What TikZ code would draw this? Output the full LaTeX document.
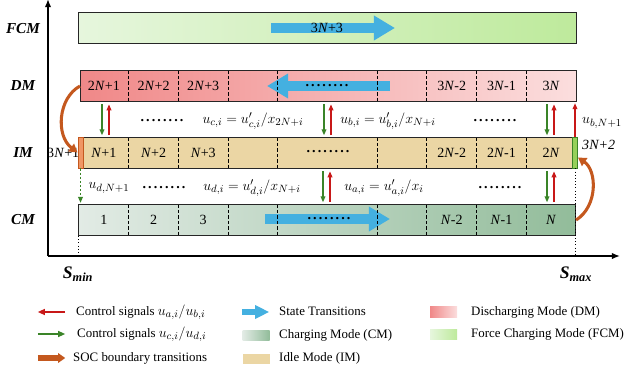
\documentclass[tikz,border=0pt]{standalone}
\usepackage{fontspec}
\setmainfont{Liberation Serif}
\usetikzlibrary{arrows.meta}
\usetikzlibrary{positioning}

\definecolor{dmL}{RGB}{240,136,136}
\definecolor{dmR}{RGB}{251,222,222}
\definecolor{fcmL}{RGB}{230,246,221}
\definecolor{fcmR}{RGB}{190,234,156}
\definecolor{cmL}{RGB}{226,235,229}
\definecolor{cmR}{RGB}{146,188,154}
\definecolor{imfill}{RGB}{235,214,164}
\definecolor{statblue}{RGB}{68,176,224}
\definecolor{socorange}{RGB}{196,88,30}
\definecolor{sigred}{RGB}{200,24,24}
\definecolor{siggreen}{RGB}{58,132,40}
\definecolor{endorange}{RGB}{240,150,100}
\definecolor{endgreen}{RGB}{150,208,90}

\tikzset{
  modebar/.style={draw=black!85, line width=0.9pt, inner sep=0pt, minimum height=0.93cm, anchor=north west},
  cellsep/.style={black, line width=0.75pt, dash pattern=on 3pt off 1.6pt, shorten <=0.5pt, shorten >=0.5pt},
  redsig/.style={sigred, line width=1pt, -{Triangle[length=5pt,width=4pt]}},
  greensig/.style={siggreen, line width=1pt, -{Triangle[length=5pt,width=4pt]}},
  socarrow/.style={socorange, line width=2.6pt, -{Triangle[length=7pt,width=8pt]}},
  statearrow/.style={statblue, line width=8.5pt, -{Triangle[length=18pt,width=20pt]}},
  modename/.style={font=\fontsize{13}{15}\selectfont\bfseries\itshape},
  cell/.style={font=\fontsize{12}{14}\selectfont, inner sep=0pt},
  eqn/.style={font=\fontsize{13}{15}\selectfont, inner sep=0pt},
  legtext/.style={font=\fontsize{11}{13}\selectfont, anchor=west, inner sep=0pt, text height=8pt, text depth=2.5pt},
  legkey/.style={inner sep=0pt, minimum width=0.81cm, minimum height=0.3cm},
}
\newcommand{\rowdots}{\textbf{.\kern1.8pt.\kern1.8pt.\kern1.8pt.\kern1.8pt.\kern1.8pt.\kern1.8pt.\kern1.8pt.}}
\newcommand{\legmath}[1]{{\fontsize{12.5}{13}\selectfont$#1$}}

\begin{document}
\begin{tikzpicture}[x=0.03cm, y=-0.03cm]
\useasboundingbox (0,0) rectangle (628,372);

% axes
\coordinate (O) at (48,256);
\coordinate (xtip) at (620,256);
\coordinate (ytip) at (48,-1);
\draw[line width=1.2pt, -{Latex[length=7pt,width=5.5pt]}] (O) -- (xtip);
\draw[line width=1.2pt, -{Latex[length=7pt,width=5.5pt]}] (O) -- (ytip);

% the four modes
\node[modebar, minimum width=14.94cm, left color=fcmL, right color=fcmR] (FCM) at (78,12) {};
\node[modebar, minimum width=14.88cm, left color=dmL, right color=dmR] (DM) at (80,70) {};
\node[modebar, minimum width=14.88cm, fill=imfill] (IM) at (80,137) {};
\node[modebar, minimum width=14.91cm, left color=cmL, right color=cmR] (CM) at (78,204) {};

\node[modename] (nFCM) at (23,29) {FCM};
\node[modename] (nDM) at (23,86) {DM};
\node[modename] (nIM) at (23,153) {IM};
\node[modename] (nCM) at (23,220) {CM};

% state transitions
\draw[statearrow] (271,28) -- (395,28);
\draw[statearrow] (390,86) -- (267,86);
\draw[statearrow] (265,219) -- (390,219);
\node[cell] (fcmlbl) at (327,28) {3\textit{N}+3};

% cells
\foreach \b in {DM,IM,CM}
  \foreach \k in {1,2,3,4,6,7,8,9} {
    \coordinate (s) at ({79+49.7*\k},0);
    \draw[cellsep] (s |- \b.north) -- (s |- \b.south);
  }
\foreach \k/\lbl in {1/2\textit{N}+1,2/2\textit{N}+2,3/2\textit{N}+3,8/3\textit{N}-2,9/3\textit{N}-1,10/3\textit{N}}
  \node[cell] (dm\k) at ({79+49.7*(\k-0.5)},86) {\lbl};
\foreach \k/\lbl in {1/\textit{N}+1,2/\textit{N}+2,3/\textit{N}+3,8/2\textit{N}-2,9/2\textit{N}-1,10/2\textit{N}}
  \node[cell] (im\k) at ({79+49.7*(\k-0.5)},152.5) {\lbl};
\foreach \k/\lbl in {1/1,2/2,3/3,8/\textit{N}-2,9/\textit{N}-1,10/\textit{N}}
  \node[cell] (cm\k) at ({79+49.7*(\k-0.5)},219.5) {\lbl};
\node[cell] (dmdots) at (327,86) {\rowdots};
\node[cell] (imdots) at (328,152) {\rowdots};
\node[cell] (cmdots) at (329,219) {\rowdots};

% boundary cells of IM
\node[cell] (lb) at (47,153) [anchor=west] {3\textit{N}+1};
\node[draw=socorange, fill=endorange, line width=0.8pt, minimum width=0.15cm, minimum height=0.93cm, inner sep=0pt] (IMl) at (80.5,152.5) {};
\node[draw=siggreen, fill=endgreen, line width=0.8pt, minimum width=0.15cm, minimum height=0.93cm, inner sep=0pt] (IMr) at (575,152.5) {};
\node[cell, anchor=west] (rb) at (582,145) {\textit{3N+2}};

% control signals
\foreach \g in {102,324,547} {
  \coordinate (gx) at (\g,0);
  \coordinate (rx) at ({\g+7},0);
  \draw[greensig, shorten <=2pt, shorten >=1.5pt] (DM.south -| gx) -- (IM.north -| gx);
  \draw[redsig, shorten <=1.5pt, shorten >=2pt] (IM.north -| rx) -- (DM.south -| rx);
}
\foreach \g in {323,547} {
  \coordinate (gx) at (\g,0);
  \coordinate (rx) at ({\g+7},0);
  \draw[greensig, shorten <=2pt, shorten >=1.5pt] (IM.south -| gx) -- (CM.north -| gx);
  \draw[redsig, shorten <=1.5pt, shorten >=2pt] (CM.north -| rx) -- (IM.south -| rx);
}
\draw[redsig, shorten >=1pt] (IMr.north) -- (IMr.north |- DM.south);
\draw[greensig, dash pattern=on 2pt off 1.5pt, shorten >=1pt] (IMl.south) -- (IMl.south |- CM.north);

\node[cell] (dA1) at (162,121) {\rowdots};
\node[eqn] (uc) at (253,121) {$u_{c,i}=u'_{c,i}/x_{2N+i}$};
\node[eqn] (ub) at (388,121) {$u_{b,i}=u'_{b,i}/x_{N+i}$};
\node[cell] (dA2) at (495,121) {\rowdots};
\node[eqn, anchor=west] (ubN) at (582,123) {$u_{b,N+1}$};
\node[eqn] (udN) at (109,188) {$u_{d,N+1}$};
\node[cell] (dB1) at (164,188) {\rowdots};
\node[eqn] (ud) at (252,188) {$u_{d,i}=u'_{d,i}/x_{N+i}$};
\node[eqn] (ua) at (384,188) {$u_{a,i}=u'_{a,i}/x_i$};
\node[cell] (dB2) at (500,188) {\rowdots};

% SOC limits
\draw[dotted, line width=0.7pt] (CM.south west) -- (CM.south west |- O);
\draw[dotted, line width=0.7pt] (IMr.south) -- (IMr.south |- O);
\draw[socarrow] (DM.west) .. controls +(-22,12) and +(-22,-17) .. (IMl.west);
\draw[socarrow] (CM.east) .. controls +(22,-14) and +(19,13) .. ([yshift=-0.15cm]IMr.east);
\node[font=\fontsize{15}{17}\selectfont\bfseries\itshape] (smin) at (78,274) {S\textsubscript{min}};
\node[font=\fontsize{15}{17}\selectfont\bfseries\itshape] (smax) at (576,274) {S\textsubscript{max}};

% legend
\node[legkey] (k1) at (51.5,312) {};
\node[legkey] (k2) at (51.5,334) {};
\node[legkey] (k3) at (51.5,358) {};
\node[legkey] (k4) at (255.5,312) {};
\node[legkey, minimum height=0.3cm, left color=cmL, right color=cmR] (k5) at (256,335) {};
\node[legkey, minimum height=0.3cm, fill=imfill] (k6) at (256,359) {};
\node[legkey, minimum height=0.33cm, left color=dmL, right color=dmR] (k7) at (443.5,311.5) {};
\node[legkey, minimum height=0.3cm, left color=fcmL, right color=fcmR] (k8) at (443.5,334.5) {};
\draw[sigred, line width=1.3pt, -{Triangle[length=6pt,width=5pt]}] (k1.east) -- (k1.west);
\draw[siggreen, line width=1.3pt, -{Triangle[length=6pt,width=5pt]}] (k2.west) -- (k2.east);
\draw[socorange, line width=4.5pt, -{Triangle[length=6pt,width=8pt]}] (k3.west) -- (k3.east);
\draw[statblue, line width=5pt, -{Triangle[length=12pt,width=11pt]}] (k4.west) -- (k4.east);
\node[legtext] (t1) at (76,312) {Control signals \legmath{u_{a,i}/u_{b,i}}};
\node[legtext] (t2) at (77,334) {Control signals \legmath{u_{c,i}/u_{d,i}}};
\node[legtext] (t3) at (73,358) {SOC boundary transitions};
\node[legtext] (t4) at (279,312) {State Transitions};
\node[legtext] (t5) at (279,335) {Charging Mode (CM)};
\node[legtext] (t6) at (279,358) {Idle Mode (IM)};
\node[legtext] (t7) at (471,312) {Discharging Mode (DM)};
\node[legtext] (t8) at (471,334) {Force Charging Mode (FCM)};
\end{tikzpicture}
\end{document}
